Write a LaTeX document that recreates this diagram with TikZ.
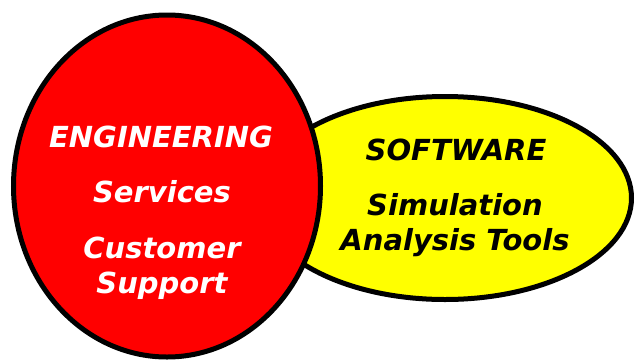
\documentclass[tikz,border=0pt]{standalone}
\usepackage{fontspec}
\setmainfont{DejaVu Sans}
\usepackage{tikz}
\usetikzlibrary{positioning,shapes.geometric}
\usepackage{xcolor}
\definecolor{fieldred}{HTML}{FF0000}
\definecolor{fieldyellow}{HTML}{FFFF00}

\begin{document}
\begin{tikzpicture}[
    x=1pt, y=-1pt,
    field/.style={ellipse, draw=black, line width=5pt, inner sep=0pt},
    lbl/.style={font=\fontsize{29}{34}\selectfont\bfseries\itshape, anchor=base, inner sep=0pt},
]
  \useasboundingbox (0,0) rectangle (635,360);
  % the two fields, software behind engineering
  \node[field, fill=fieldyellow, minimum width=373pt, minimum height=203pt] (soft) at (445,198) {};
  \node[field, fill=fieldred, minimum width=307pt, minimum height=342pt] (eng) at (167,186) {};

  \node[lbl, text=white] (engt) at (161,147) {ENGINEERING};
  \node[lbl, text=white] (serv) at (162,202) {Services};
  \node[lbl, text=white] (cust) at (162,258) {Customer};
  \node[lbl, text=white] (supp) at (162,293) {Support};

  \node[lbl] (softt) at (456,160) {SOFTWARE};
  \node[lbl] (simu) at (455,215) {Simulation};
  \node[lbl] (anal) at (455,250) {Analysis Tools};
\end{tikzpicture}
\end{document}
